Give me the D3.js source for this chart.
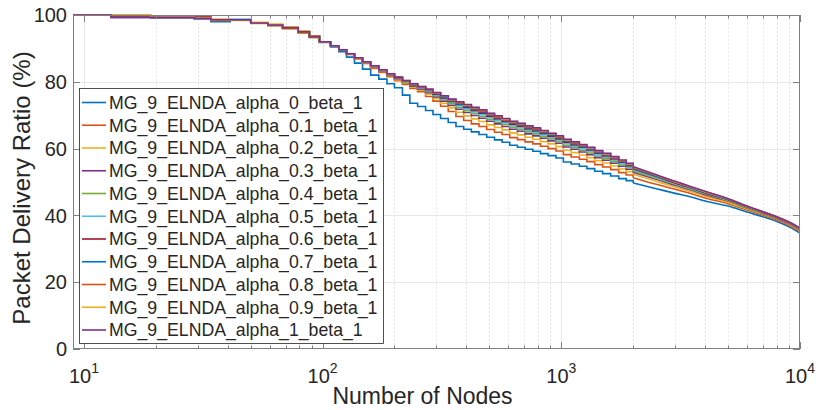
<!DOCTYPE html>
<html><head><meta charset="utf-8">
<script src="https://cdn.jsdelivr.net/npm/d3@7"></script>
<style>
body{margin:0;background:#fff}
svg{display:block}
text{font-family:"Liberation Sans",Arial,Helvetica,sans-serif;fill:#262626}
</style>
</head><body>
<svg id="chart" width="816" height="410"></svg>
<script>
// ---------- data ----------
const nodes = [9,13,19,29,34,41,50,59,68,79,88,
  97,108,117,126,136,147,159,172,186,200,216,232,250,270,290,312,336,362,390,420,452,487,525,565,608,655,705,760,818,880,950,1020,1100,1190,1280,1380,1490,1610,1740,1870,2000,
  2500,3000,3500,4000,5000,6000,7000,8000,9000,10000];
const stepEndIndex = 51; // stair-step data up to 2000 nodes, smooth afterwards

const seriesNames = ["MG_9_ELNDA_alpha_0_beta_1","MG_9_ELNDA_alpha_0.1_beta_1","MG_9_ELNDA_alpha_0.2_beta_1",
  "MG_9_ELNDA_alpha_0.3_beta_1","MG_9_ELNDA_alpha_0.4_beta_1","MG_9_ELNDA_alpha_0.5_beta_1",
  "MG_9_ELNDA_alpha_0.6_beta_1","MG_9_ELNDA_alpha_0.7_beta_1","MG_9_ELNDA_alpha_0.8_beta_1",
  "MG_9_ELNDA_alpha_0.9_beta_1","MG_9_ELNDA_alpha_1_beta_1"];
const seriesColors = ["#0072BD","#D95319","#EDB120","#7E2F8E","#77AC30","#4DBEEE","#A2142F","#0072BD","#D95319","#EDB120","#7E2F8E"];

const alpha00 = [100,99.6,99.3,99.0,98.0,98.5,97.6,97.0,96.2,95.0,93.5,
  91.8,90.4,89.0,87.4,85.6,83.8,82.0,80.8,79.4,78.2,76.0,73.6,72.6,71.4,70.2,69.0,67.8,66.6,65.8,65.0,64.2,63.4,62.6,61.9,61.0,60.4,59.8,59.2,58.5,57.9,57.2,56.0,55.4,54.7,54.0,53.2,52.5,51.8,51.0,50.4,49.7,
  48.0,46.6,45.5,44.3,42.8,41.0,39.6,38.2,36.6,34.7];
const alpha01 = [100,100,99.5,99.0,98.6,98.6,97.6,96.8,96.0,94.8,93.4,
  91.9,90.7,89.5,88.2,86.9,85.5,84.0,82.8,81.5,80.3,79.2,78.0,77.0,75.6,74.2,72.7,71.1,69.6,68.4,67.4,66.6,65.7,64.9,64.2,63.3,62.7,62.0,61.4,60.7,60.0,59.3,58.2,57.5,56.8,56.1,55.2,54.5,53.7,52.8,52.1,51.3,
  49.3,47.8,46.5,45.2,43.5,41.6,40.1,38.6,37.0,35.2];
const alpha02 = [100,100,99.6,99.2,98.8,98.4,97.8,97.2,96.4,95.2,93.8,
  92.0,90.7,89.5,88.3,87.0,85.6,84.3,83.1,81.8,80.6,79.6,78.4,77.5,76.3,75.0,73.6,72.2,70.9,69.8,68.9,68.1,67.1,66.3,65.6,64.7,64.1,63.4,62.8,62.1,61.4,60.6,59.5,58.8,58.1,57.3,56.4,55.7,54.8,53.9,53.1,52.3,
  50.2,48.5,47.1,45.8,43.9,41.9,40.4,38.9,37.3,35.5];
const alpha03 = [100,99.3,99.3,99.0,98.6,98.6,97.6,97.0,96.1,94.8,93.4,
  92.0,90.8,89.5,88.3,87.0,85.7,84.4,83.2,81.9,80.9,79.8,78.7,77.8,76.7,75.5,74.2,72.9,71.8,70.8,69.9,69.1,68.2,67.4,66.6,65.8,65.2,64.4,63.8,63.1,62.3,61.6,60.5,59.8,59.0,58.2,57.3,56.5,55.6,54.7,53.8,52.9,
  50.8,49.0,47.6,46.2,44.3,42.2,40.6,39.1,37.5,35.7];
const alpha04 = [100,99.6,99.4,99.0,98.6,98.5,97.5,96.9,96.0,94.6,93.2,
  92.0,90.8,89.6,88.3,87.1,85.8,84.5,83.3,82.1,81.0,79.9,78.9,78.0,77.0,75.8,74.6,73.4,72.3,71.4,70.5,69.7,68.7,67.9,67.2,66.3,65.7,65.0,64.4,63.6,62.9,62.1,61.0,60.3,59.5,58.7,57.8,57.0,56.1,55.1,54.3,53.3,
  51.1,49.3,47.8,46.5,44.4,42.3,40.7,39.2,37.6,35.8];
const alpha05 = [100,99.6,99.4,99.0,98.4,98.8,97.6,97.0,96.2,95.0,93.6,
  92.0,90.8,89.6,88.3,87.1,85.9,84.6,83.4,82.1,81.1,80.1,79.0,78.1,77.2,76.1,74.9,73.8,72.8,71.9,71.0,70.2,69.2,68.4,67.7,66.8,66.2,65.5,64.9,64.1,63.3,62.6,61.5,60.7,60.0,59.2,58.2,57.4,56.5,55.5,54.6,53.7,
  51.4,49.5,48.0,46.7,44.6,42.5,40.8,39.3,37.7,35.9];
const alpha06 = [100,99.6,99.3,99.6,98.6,98.6,97.7,97.0,96.3,95.0,93.6,
  92.0,90.8,89.6,88.4,87.1,85.9,84.7,83.5,82.2,81.2,80.2,79.1,78.3,77.4,76.3,75.2,74.1,73.2,72.3,71.4,70.6,69.7,68.9,68.1,67.3,66.7,65.9,65.3,64.5,63.7,62.9,61.9,61.1,60.4,59.6,58.6,57.8,56.9,55.9,54.9,54.0,
  51.7,49.7,48.2,46.8,44.7,42.6,40.9,39.4,37.8,36.0];
const alpha07 = [100,99.6,99.3,99.0,98.2,98.6,97.6,97.0,96.2,95.0,93.6,
  92.0,90.8,89.6,88.4,87.2,85.9,84.7,83.5,82.3,81.3,80.2,79.2,78.4,77.5,76.5,75.4,74.3,73.4,72.6,71.7,70.9,70.0,69.2,68.4,67.6,67.0,66.2,65.6,64.8,64.0,63.2,62.2,61.4,60.6,59.8,58.8,58.1,57.1,56.1,55.1,54.2,
  51.8,49.9,48.3,46.9,44.8,42.6,41.0,39.5,37.9,36.1];
const alpha08 = [100,99.8,99.5,99.1,98.4,98.6,97.6,97.0,96.0,94.8,93.4,
  92.0,90.8,89.6,88.4,87.2,86.0,84.7,83.5,82.3,81.3,80.3,79.3,78.5,77.6,76.6,75.6,74.5,73.7,72.9,72.0,71.2,70.2,69.4,68.6,67.8,67.2,66.5,65.9,65.1,64.3,63.5,62.5,61.7,60.9,60.1,59.1,58.3,57.3,56.3,55.3,54.4,
  52.0,50.0,48.4,47.1,44.9,42.7,41.0,39.5,37.9,36.1];
const alpha09 = [100,100,99.6,99.2,98.6,98.6,97.7,97.2,96.4,95.2,93.8,
  92.0,90.8,89.6,88.4,87.2,86.0,84.8,83.6,82.4,81.4,80.4,79.4,78.6,77.7,76.7,75.7,74.7,73.9,73.1,72.3,71.5,70.5,69.7,68.9,68.1,67.5,66.7,66.1,65.3,64.5,63.7,62.7,61.9,61.1,60.3,59.3,58.5,57.5,56.5,55.5,54.5,
  52.1,50.1,48.5,47.1,45.0,42.8,41.1,39.6,38.0,36.2];
const alpha10 = [100,99.3,99.3,99.0,98.6,98.6,97.6,97.0,96.2,95.0,93.6,
  92.0,90.8,89.6,88.4,87.2,86.0,84.8,83.6,82.4,81.4,80.4,79.4,78.6,77.8,76.8,75.8,74.8,74.0,73.2,72.4,71.6,70.6,69.8,69.0,68.2,67.6,66.8,66.2,65.4,64.6,63.8,62.8,62.0,61.2,60.4,59.4,58.6,57.6,56.6,55.6,54.6,
  52.2,50.2,48.6,47.2,45.0,42.8,41.1,39.6,38.0,36.2];

const seriesValues = [alpha00,alpha01,alpha02,alpha03,alpha04,alpha05,alpha06,alpha07,alpha08,alpha09,alpha10];

const yTickValues = [0,20,40,60,80,100];
const xMajorTicks = [10,100,1000,10000];
const xMinorTicks = [20,30,40,50,60,70,80,90,200,300,400,500,600,700,800,900,2000,3000,4000,5000,6000,7000,8000,9000];
const xLabel = "Number of Nodes";
const yLabel = "Packet Delivery Ratio (%)";

// ---------- layout ----------
const L = 73, R = 800, T = 15, B = 349;
const svg = d3.select("#chart");
const x = d3.scaleLog().domain([9, 10000]).range([L, R]);
const y = d3.scaleLinear().domain([0, 100]).range([B, T]);

// grid
const grid = svg.append("g");
grid.selectAll(".gy").data(yTickValues.slice(1, -1)).join("line")
  .attr("x1", L).attr("x2", R).attr("y1", d => Math.round(y(d)) + 0.5).attr("y2", d => Math.round(y(d)) + 0.5)
  .attr("stroke", "#e8e8e8").attr("stroke-width", 1);
grid.selectAll(".gxm").data(xMinorTicks).join("line")
  .attr("x1", d => Math.round(x(d)) + 0.5).attr("x2", d => Math.round(x(d)) + 0.5).attr("y1", T).attr("y2", B)
  .attr("stroke", "#e6e6e6").attr("stroke-width", 1).attr("stroke-dasharray", "2,2");
grid.selectAll(".gxM").data(xMajorTicks.slice(0, -1)).join("line")
  .attr("x1", d => Math.round(x(d)) + 0.5).attr("x2", d => Math.round(x(d)) + 0.5).attr("y1", T).attr("y2", B)
  .attr("stroke", "#e8e8e8").attr("stroke-width", 1);

// lines
svg.append("clipPath").attr("id", "clip").append("rect").attr("x", L).attr("y", T - 2).attr("width", R - L).attr("height", B - T + 4);
const stepLine = d3.line().curve(d3.curveStepAfter).x(d => x(d[0])).y(d => y(d[1]));
const smoothLine = d3.line().curve(d3.curveMonotoneX).x(d => x(d[0])).y(d => y(d[1]));
const lg = svg.append("g").attr("clip-path", "url(#clip)");
seriesValues.forEach((vals, i) => {
  const pts = nodes.map((n, j) => [n, vals[j]]);
  const g = lg.append("g").attr("fill", "none").attr("stroke", seriesColors[i]).attr("stroke-width", 1.6).attr("stroke-linejoin", "miter");
  g.append("path").attr("d", stepLine(pts.slice(0, stepEndIndex + 1)));
  g.append("path").attr("d", smoothLine(pts.slice(stepEndIndex)));
});

// axes box and ticks
const axisColor = "#808080";
svg.append("rect").attr("x", L + 0.5).attr("y", T + 0.5).attr("width", R - L - 1).attr("height", B - T - 1)
  .attr("fill", "none").attr("stroke", axisColor).attr("stroke-width", 1);
const tk = svg.append("g").attr("stroke", axisColor).attr("stroke-width", 1);
const px = d => Math.round(x(d)) + 0.5;
const py = d => Math.round(y(d)) + 0.5;
tk.selectAll(".xb").data(xMajorTicks).join("line").attr("x1", px).attr("x2", px).attr("y1", B).attr("y2", B - 7);
tk.selectAll(".xt").data(xMajorTicks).join("line").attr("x1", px).attr("x2", px).attr("y1", T).attr("y2", T + 7);
tk.selectAll(".xbm").data(xMinorTicks).join("line").attr("x1", px).attr("x2", px).attr("y1", B).attr("y2", B - 3.5);
tk.selectAll(".xtm").data(xMinorTicks).join("line").attr("x1", px).attr("x2", px).attr("y1", T).attr("y2", T + 3.5);
tk.selectAll(".yl").data(yTickValues).join("line").attr("y1", py).attr("y2", py).attr("x1", L).attr("x2", L + 7);
tk.selectAll(".yr").data(yTickValues).join("line").attr("y1", py).attr("y2", py).attr("x1", R).attr("x2", R - 7);

// tick labels
svg.selectAll(".ylab").data(yTickValues).join("text")
  .attr("x", 67).attr("y", d => y(d)).attr("dy", "0.36em").attr("text-anchor", "end")
  .attr("font-size", 20).text(d => d);
const xl = svg.selectAll(".xlab").data(xMajorTicks).join("text")
  .attr("x", d => x(d)).attr("y", 383).attr("text-anchor", "middle").attr("font-size", 20);
xl.append("tspan").text("10");
xl.append("tspan").attr("dy", -10).attr("font-size", 14).text(d => Math.round(Math.log10(d)));

// axis labels
svg.append("text").attr("x", (L + R) / 2 - 14).attr("y", 404).attr("text-anchor", "middle").attr("font-size", 23).text(xLabel);
svg.append("text").attr("transform", `translate(30,${(T + B) / 2 + 6}) rotate(-90)`).attr("text-anchor", "middle").attr("font-size", 24).text(yLabel);

// legend
const leg = svg.append("g");
leg.append("rect").attr("x", 79.5).attr("y", 88.5).attr("width", 304).attr("height", 255)
  .attr("fill", "#fff").attr("stroke", "#262626").attr("stroke-width", 0.8);
const rows = leg.selectAll(".row").data(seriesNames).join("g")
  .attr("transform", (d, i) => `translate(0,${102.5 + i * 22.75})`);
rows.append("line").attr("x1", 82).attr("x2", 106).attr("y1", 0).attr("y2", 0)
  .attr("stroke", (d, i) => seriesColors[i]).attr("stroke-width", 1.6);
rows.append("text").attr("x", 109).attr("y", 0).attr("dy", "0.36em").attr("font-size", 17.7).text(d => d);
</script>
</body></html>
